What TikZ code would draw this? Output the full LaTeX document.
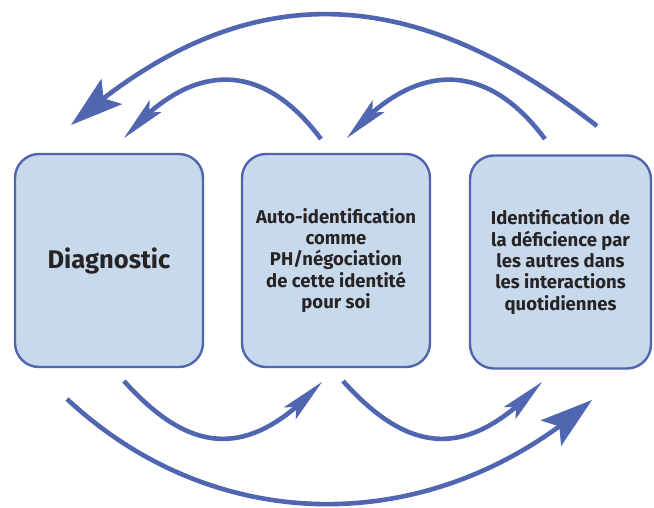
\documentclass[tikz,border=0pt]{standalone}
\usepackage{fontspec}
\setmainfont{Fira Sans}
\usetikzlibrary{arrows.meta,bending}
\definecolor{boxfill}{HTML}{C9D9EC}
\definecolor{boxline}{HTML}{4F66AF}
\definecolor{arrowc}{HTML}{5166B1}
\definecolor{textc}{HTML}{262425}
\tikzset{
  box/.style={draw=boxline, line width=2.4pt, fill=boxfill, rounded corners=24pt,
    minimum height=213pt, text=textc, align=center, inner sep=0pt},
  bigarrow/.style={draw=arrowc, line width=4.6pt,
    -{Stealth[length=53pt, width=33pt, inset=11pt, line width=0pt, flex]}},
  smallarrow/.style={draw=arrowc, line width=4.6pt,
    -{Stealth[length=45pt, width=17pt, inset=9pt, line width=0pt, flex]}},
  midtext/.style={font=\fontsize{18.5}{21.3}\selectfont\bfseries}
}
\begin{document}
\begin{tikzpicture}[x=1pt,y=-1pt]
\useasboundingbox (0,0) rectangle (654,508);
\node[box, minimum width=188pt, font=\fontsize{25.5}{28}\selectfont\bfseries] (b1) at (109,260.5) {Diagnostic};
\node[box, minimum width=188pt, midtext] (b2) at (336,260.5) {Auto-identification\\comme\\PH/négociation\\de cette identité\\pour soi};
\node[box, minimum width=181pt, midtext] (b3) at (560.5,262) {Identification de\\la déficience par\\les autres dans\\les interactions\\quotidiennes};
% arrow end points
\coordinate (tbs) at (597,126);
\coordinate (tbe) at (71,125);
\coordinate (t1s) at (321,139);
\coordinate (t1e) at (124,138);
\coordinate (t2s) at (545,139);
\coordinate (t2e) at (347,138);
\coordinate (b1s) at (124,381);
\coordinate (b1e) at (322,382);
\coordinate (b2s) at (343,381);
\coordinate (b2e) at (542,382);
\coordinate (bbs) at (67,399);
\coordinate (bbe) at (592,400);
% top arrows
\draw[bigarrow] (tbs) .. controls (406,-23) and (240,-23) .. (tbe);
\draw[smallarrow] (t1s) .. controls (262,60) and (192,60) .. (t1e);
\draw[smallarrow] (t2s) .. controls (486,60) and (415,60) .. (t2e);
% bottom arrows
\draw[smallarrow] (b1s) .. controls (193,458) and (252,458) .. (b1e);
\draw[smallarrow] (b2s) .. controls (412,458) and (471,458) .. (b2e);
\draw[bigarrow] (bbs) .. controls (217,539) and (435,539) .. (bbe);
\end{tikzpicture}
\end{document}
